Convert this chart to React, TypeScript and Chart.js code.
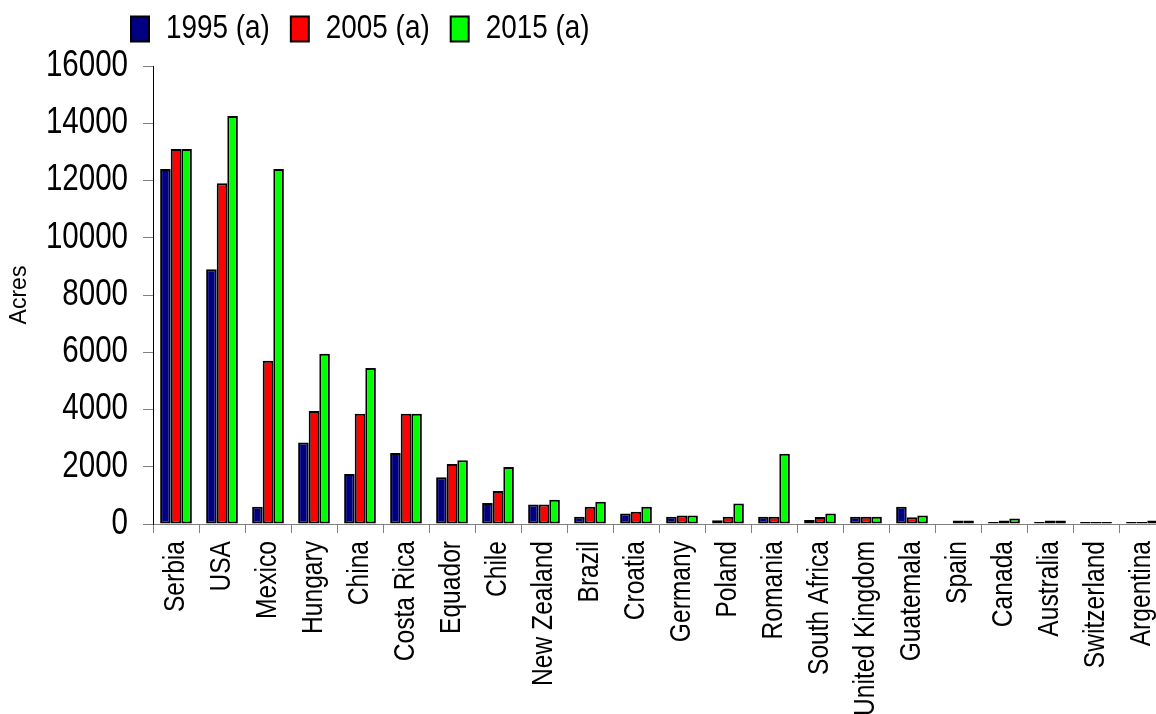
import React, { useEffect, useRef } from "react";
import { Chart, registerables } from "chart.js";

Chart.register(...registerables);

// ---- data ----
const categories = [
  "Serbia", "USA", "Mexico", "Hungary", "China", "Costa Rica", "Equador", "Chile",
  "New Zealand", "Brazil", "Croatia", "Germany", "Poland", "Romania", "South Africa",
  "United Kingdom", "Guatemala", "Spain", "Canada", "Australia", "Switzerland", "Argentina",
];
const values1995 = [12400, 8900, 600, 2850, 1750, 2480, 1630, 730, 680, 250, 370, 250, 130, 250, 140, 250, 600, 0, 70, 70, 70, 70];
const values2005 = [13100, 11900, 5700, 3950, 3850, 3850, 2100, 1150, 680, 600, 430, 300, 250, 250, 245, 250, 240, 120, 120, 120, 70, 70];
const values2015 = [13100, 14250, 12400, 5950, 5450, 3850, 2230, 1990, 850, 780, 600, 300, 720, 2450, 370, 250, 300, 120, 190, 120, 70, 120];
const seriesLabels = ["1995 (a)", "2005 (a)", "2015 (a)"];
const seriesColors = ["#000080", "#FF0000", "#00FF00"];
const yMin = 0;
const yMax = 16000;
const yStep = 2000;
const yTitle = "Acres";

// A narrow (Arial Narrow-like) look: the family name carries "Narrow", and the
// context condenses such text horizontally, since no narrow face is installed.
const NARROW = '"Liberation Sans Narrow", "Liberation Sans", Arial, sans-serif';
const REGULAR = '"Liberation Sans", Arial, sans-serif';
const CONDENSE = 0.82;

function patchCondensed(ctx: any) {
  if (ctx.__condensed) return;
  ctx.__condensed = true;
  const origFill = ctx.fillText.bind(ctx);
  const origMeasure = ctx.measureText.bind(ctx);
  const isNarrow = () => String(ctx.font).indexOf("Narrow") >= 0;
  ctx.fillText = (text: string, x: number, y: number, maxWidth?: number) => {
    if (!isNarrow()) {
      if (maxWidth === undefined) origFill(text, x, y);
      else origFill(text, x, y, maxWidth);
      return;
    }
    ctx.save();
    ctx.translate(x, y);
    ctx.scale(CONDENSE, 1);
    if (maxWidth === undefined) origFill(text, 0, 0);
    else origFill(text, 0, 0, maxWidth / CONDENSE);
    ctx.restore();
  };
  ctx.measureText = (text: string) => {
    const m = origMeasure(text);
    if (!isNarrow()) return m;
    return {
      width: m.width * CONDENSE,
      actualBoundingBoxAscent: m.actualBoundingBoxAscent,
      actualBoundingBoxDescent: m.actualBoundingBoxDescent,
      actualBoundingBoxLeft: m.actualBoundingBoxLeft * CONDENSE,
      actualBoundingBoxRight: m.actualBoundingBoxRight * CONDENSE,
      fontBoundingBoxAscent: m.fontBoundingBoxAscent,
      fontBoundingBoxDescent: m.fontBoundingBoxDescent,
    };
  };
}

const legendShift = {
  id: "legendShift",
  afterLayout(chart: any) {
    const lg = chart.legend;
    if (lg) {
      lg.left = 110;
      lg.top = lg.top - 10;
      lg.bottom = lg.bottom - 10;
    }
  },
};

export default function App() {
  const ref = useRef<HTMLCanvasElement | null>(null);

  useEffect(() => {
    if (!ref.current) return;
    const ctx = ref.current.getContext("2d");
    patchCondensed(ctx);
    const seriesValues = [values1995, values2005, values2015];
    const chart = new Chart(ctx as any, {
      type: "bar",
      data: {
        labels: categories,
        datasets: seriesLabels.map((label, i) => ({
          label,
          data: seriesValues[i],
          backgroundColor: seriesColors[i],
          borderColor: "#000000",
          borderWidth: 2,
          borderSkipped: false,
          categoryPercentage: 0.69,
          barPercentage: 1,
        })),
      },
      options: {
        responsive: false,
        animation: false,
        layout: { padding: { top: 1, left: 0, right: 3, bottom: 0 } },
        plugins: {
          legend: {
            position: "top",
            align: "start",
            labels: {
              font: { family: NARROW, size: 34 },
              color: "#000000",
              boxWidth: 18,
              boxHeight: 25,
              padding: 21,
            },
          },
          tooltip: { enabled: false },
          title: { display: false },
        },
        scales: {
          x: {
            grid: {
              display: true,
              drawOnChartArea: false,
              tickLength: 9,
              color: "#808080",
              offset: true,
            },
            border: { color: "#808080", width: 1 },
            ticks: {
              font: { family: NARROW, size: 30 },
              color: "#000000",
              minRotation: 90,
              maxRotation: 90,
              padding: 8,
              autoSkip: false,
            },
            afterFit: (s: any) => {
              s.height = 190;
              s.paddingLeft = 0;
              s.paddingRight = 0;
            },
          },
          y: {
            min: yMin,
            max: yMax,
            ticks: {
              stepSize: yStep,
              font: { family: NARROW, size: 36 },
              color: "#000000",
              padding: 15,
              callback: (v: any) => String(v),
            },
            grid: { drawOnChartArea: false, tickLength: 10, color: "#808080" },
            border: { color: "#000000", width: 1 },
            title: {
              display: true,
              text: yTitle,
              font: { family: REGULAR, size: 23 },
              color: "#000000",
              padding: { top: 6, bottom: 0 },
            },
            afterFit: (s: any) => {
              s.width = 153;
            },
          },
        },
      },
      plugins: [legendShift],
    });
    return () => chart.destroy();
  }, []);

  return (
    <div
      style={{
        position: "fixed",
        left: 0,
        top: 0,
        width: 1156,
        height: 714,
        overflow: "hidden",
        background: "#ffffff",
      }}
    >
      <canvas ref={ref} width={1168} height={714} style={{ display: "block", width: 1168, height: 714 }} />
    </div>
  );
}
